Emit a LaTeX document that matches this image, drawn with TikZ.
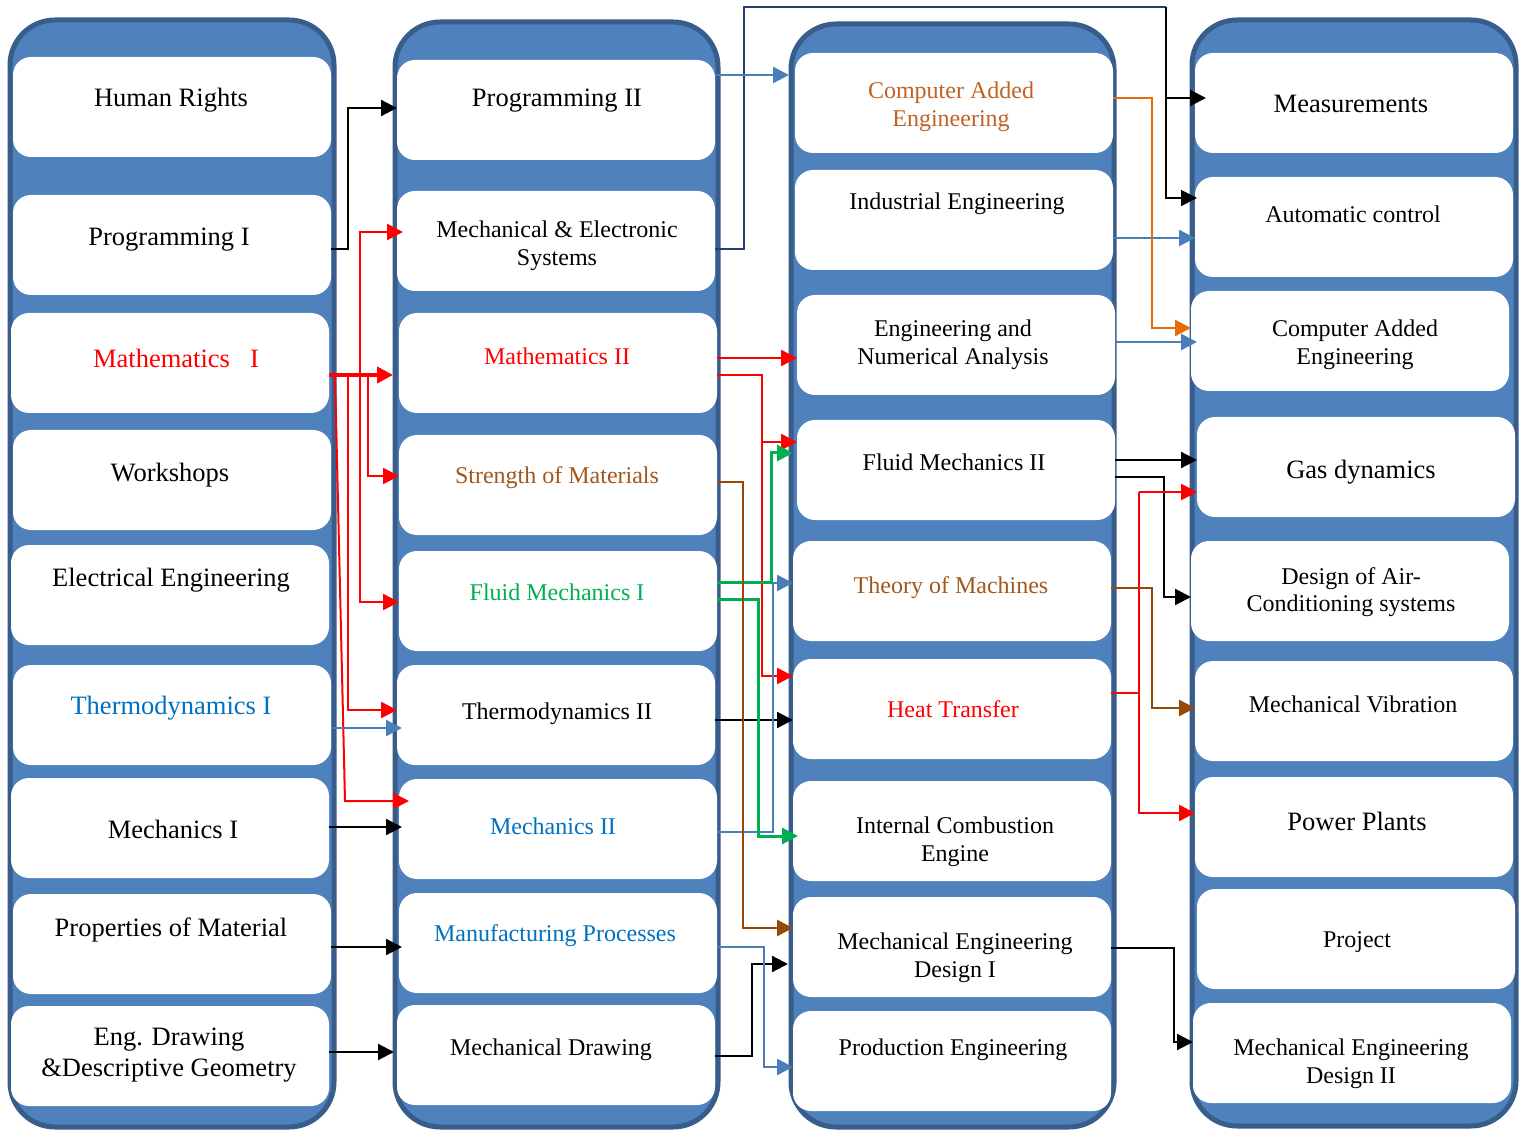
\documentclass[tikz,border=0pt]{standalone}
\usepackage{fontspec}
\setmainfont{Liberation Serif}
\usetikzlibrary{arrows.meta,calc}
\definecolor{cfill}{HTML}{4F81BD}
\definecolor{cbord}{HTML}{385D8A}
\definecolor{tred}{HTML}{FF0000}
\definecolor{tbrown}{RGB}{160,88,30}
\definecolor{torange}{RGB}{192,98,36}
\definecolor{tgreen}{HTML}{00B050}
\definecolor{tblue}{HTML}{0070C0}
\definecolor{lblue}{HTML}{4A7EBB}
\definecolor{lbrown}{RGB}{151,71,6}
\definecolor{lorange}{RGB}{228,108,10}
\definecolor{lnavy}{RGB}{35,64,110}
\begin{document}
\begin{tikzpicture}[x=1pt,y=-1pt,
  colbox/.style={draw=cbord,line width=5pt,fill=cfill,rounded corners=45pt,inner sep=0pt,outer sep=0pt,minimum width=324pt},
  wbox/.style={fill=white,draw=none,rounded corners=18pt,minimum width=318pt,minimum height=100pt,inner sep=0pt,outer sep=0pt},
  lg/.style={font=\fontsize{26.5}{31}\selectfont,align=center,inner sep=0pt,yshift=-3pt},
  sm/.style={font=\fontsize{24}{27.5}\selectfont,align=center,inner sep=0pt,yshift=-3pt},
  arr/.style={-{Triangle[length=16pt,width=16pt]}},
  blk/.style={draw=black,line width=2.2pt,arr},
  rdl/.style={draw=tred,line width=2.5pt,arr},
  bll/.style={draw=lblue,line width=2.4pt,arr},
  grl/.style={draw=tgreen,line width=3pt,arr},
  brl/.style={draw=lbrown,line width=2.8pt,arr},
  orl/.style={draw=lorange,line width=2.2pt,arr},
  nvl/.style={draw=lnavy,line width=1.6pt}
]
\useasboundingbox (0,0) rectangle (1524,1131);
\fill[white] (0,0) rectangle (1524,1131);

% columns
\node[colbox,minimum height=1107pt] (c1) at (172,573.5) {};
\node[colbox,minimum height=1105pt,minimum width=323pt] (c2) at (556.5,574.5) {};
\node[colbox,minimum height=1103pt,minimum width=323pt] (c3) at (952.5,575.5) {};
\node[colbox,minimum height=1106pt] (c4) at (1354,573) {};

% white boxes column 1
\node[wbox] (b11) at (172,107) {};
\node[wbox] (b12) at (172,245) {};
\node[wbox] (b13) at (170,363) {};
\node[wbox] (b14) at (172,480) {};
\node[wbox] (b15) at (170,595) {};
\node[wbox] (b16) at (172,715) {};
\node[wbox] (b17) at (170,828) {};
\node[wbox] (b18) at (172,944) {};
\node[wbox] (b19) at (170,1056) {};
% column 2
\node[wbox] (b21) at (556,110) {};
\node[wbox] (b22) at (556,241) {};
\node[wbox] (b23) at (558,363) {};
\node[wbox] (b24) at (558,485) {};
\node[wbox] (b25) at (558,601) {};
\node[wbox] (b26) at (556,715) {};
\node[wbox] (b27) at (558,829) {};
\node[wbox] (b28) at (558,943) {};
\node[wbox] (b29) at (556,1055) {};
% column 3
\node[wbox] (b31) at (954,103) {};
\node[wbox] (b32) at (954,220) {};
\node[wbox] (b33) at (956,345) {};
\node[wbox] (b34) at (956,470) {};
\node[wbox] (b35) at (952,591) {};
\node[wbox] (b36) at (952,709) {};
\node[wbox] (b37) at (952,831) {};
\node[wbox] (b38) at (952,947) {};
\node[wbox] (b39) at (952,1061) {};
% column 4
\node[wbox] (b41) at (1354,103) {};
\node[wbox] (b42) at (1354,227) {};
\node[wbox] (b43) at (1350,341) {};
\node[wbox] (b44) at (1356,467) {};
\node[wbox] (b45) at (1350,591) {};
\node[wbox] (b46) at (1354,711) {};
\node[wbox] (b47) at (1354,827) {};
\node[wbox] (b48) at (1356,939) {};
\node[wbox] (b49) at (1352,1053) {};

% texts column 1
\node[lg] (t11) at (171,97) {Human Rights};
\node[lg] (t12) at (169,237) {Programming I};
\node[lg,text=tred] (t13) at (176,355) {Mathematics\hspace{20pt}I};
\node[lg] (t14) at (170,472) {Workshops};
\node[lg] (t15) at (171,577) {Electrical Engineering};
\node[lg,text=tblue] (t16) at (171,705) {Thermodynamics I};
\node[lg] (t17) at (173,826) {Mechanics I};
\node[lg] (t18) at (171,927) {Properties of Material};
\node[lg] (t19) at (169,1052) {Eng. Drawing\\\&Descriptive Geometry};
% column 2
\node[lg] (t21) at (557,98) {Programming II};
\node[sm] (t22) at (557,243) {Mechanical \& Electronic\\Systems};
\node[sm,text=tred] (t23) at (557,353) {Mathematics II};
\node[sm,text=tbrown] (t24) at (557,475) {Strength of Materials};
\node[sm,text=tgreen] (t25) at (557,589) {Fluid Mechanics I};
\node[sm] (t26) at (557,711) {Thermodynamics II};
\node[sm,text=tblue] (t27) at (553,823) {Mechanics II};
\node[sm,text=tblue] (t28) at (555,933) {Manufacturing Processes};
\node[sm] (t29) at (551,1047) {Mechanical Drawing};
% column 3
\node[sm,text=torange] (t31) at (951,104) {Computer Added\\Engineering};
\node[sm] (t32) at (957,201) {Industrial Engineering};
\node[sm] (t33) at (953,342) {Engineering and\\Numerical Analysis};
\node[sm] (t34) at (954,459) {Fluid Mechanics II};
\node[sm,text=tbrown] (t35) at (951,585) {Theory of Machines};
\node[sm,text=tred] (t36) at (953,706) {Heat Transfer};
\node[sm] (t37) at (955,839) {Internal Combustion\\Engine};
\node[sm] (t38) at (955,955) {Mechanical Engineering\\Design I};
\node[sm] (t39) at (953,1047) {Production Engineering};
% column 4
\node[lg] (t41) at (1351,101) {Measurements};
\node[sm] (t42) at (1353,211) {Automatic control};
\node[sm] (t43) at (1355,342) {Computer Added\\Engineering};
\node[lg] (t44) at (1361,469) {Gas dynamics};
\node[sm] (t45) at (1351,589) {Design of Air-\\Conditioning systems};
\node[sm] (t46) at (1353,701) {Mechanical Vibration};
\node[lg] (t47) at (1357,818) {Power Plants};
\node[sm] (t48) at (1357,939) {Project};
\node[sm] (t49) at (1351,1061) {Mechanical Engineering\\Design II};

% junction coordinates
\coordinate (top) at (1166,7);
\coordinate (jn) at (1166,98);
\coordinate (r1) at (360,375);
\coordinate (r2) at (368,375);
\coordinate (r3) at (348,375);
\coordinate (r4) at (335,375);
\coordinate (r5) at (762,442);
\coordinate (r6) at (1139,492);

% black connectors
\draw[blk] (b12.east |- 0,249) -- (348,249) -- (348,108) -- (b21.west |- 0,108);
\draw[blk] (b17.east |- 0,827) -- ($(b27.west |- 0,827)+(3,0)$);
\draw[blk] (b18.east |- 0,947) -- ($(b28.west |- 0,947)+(3,0)$);
\draw[blk] (b19.east |- 0,1052) -- ($(b29.west |- 0,1052)+(-3,0)$);
\draw[blk] (b26.east |- 0,720) -- (b36.west |- 0,720);
\draw[blk] (b29.east |- 0,1056) -- (752,1056) -- (752,964) -- ($(b38.west |- 0,964)+(-5,0)$);
\draw[blk] (b34.east |- 0,460) -- (b44.west |- 0,460);
\draw[blk] (b34.east |- 0,477) -- (1164,477) -- (1164,597) -- (b45.west |- 0,597);
\draw[blk] (b38.east |- 0,948) -- (1174,948) -- (1174,1042) -- (b49.west |- 0,1042);
\draw[nvl] (b22.east |- 0,249) -- (744,249) -- (744,7) -- (top);
\draw[blk,line width=1.8pt] (top) -- (1166,198) -- ($(b42.west |- 0,198)+(2,0)$);
\draw[blk] (jn) -- ($(b41.west |- 0,98)+(11,0)$);

% red connectors
\draw[draw=tred,line width=4.5pt,arr] (b13.east |- 0,375) -- ($(b23.west |- 0,375)+(-6,0)$);
\draw[rdl] (r1) -- (360,232) -- ($(b22.west |- 0,232)+(6,0)$);
\draw[rdl] (r1) -- (360,602) -- (b25.west |- 0,602);
\draw[rdl] (r2) -- (368,476) -- (b24.west |- 0,476);
\draw[rdl] (r3) -- (348,710) -- (b26.west |- 0,710);
\draw[draw=tred,line width=2pt,arr] (r4) -- (345,801) -- ($(b27.west |- 0,801)+(10,0)$);
\draw[rdl] (b23.east |- 0,358) -- (b33.west |- 0,358);
\draw[rdl] (b23.east |- 0,375) -- (762,375) -- (762,676) -- (b36.west |- 0,676);
\draw[rdl] (r5) -- (b34.west |- 0,442);
\draw[draw=tred,line width=2.5pt] (b36.east |- 0,693) -- (1139,693);
\draw[rdl] (r6) -- (1139,813) -- (b47.west |- 0,813);
\draw[rdl] (r6) -- (b44.west |- 0,492);

% blue connectors
\draw[bll] (b16.east |- 0,728) -- ($(b26.west |- 0,728)+(5,0)$);
\draw[bll] (b21.east |- 0,75) -- ($(b31.west |- 0,75)+(-6,0)$);
\draw[bll] (b27.east |- 0,832) -- (773,832) -- (773,583) -- (b35.west |- 0,583);
\draw[bll] (b28.east |- 0,947) -- (764,947) -- (764,1067) -- (b39.west |- 0,1067);
\draw[bll] (b32.east |- 0,238) -- (b42.west |- 0,238);
\draw[bll] (b33.east |- 0,342) -- ($(b43.west |- 0,342)+(6,0)$);

% green connectors
\draw[grl] (b25.east |- 0,582) -- (771,582) -- (771,453) -- ($(b34.west |- 0,453)+(-4,0)$);
\draw[grl] (b25.east |- 0,599) -- (758,599) -- (758,836) -- ($(b37.west |- 0,836)+(5,0)$);

% brown connectors
\draw[brl] (b24.east |- 0,482) -- (743,482) -- (743,928) -- (b38.west |- 0,928);
\draw[brl] (b35.east |- 0,588) -- (1152,588) -- (1152,708) -- (b46.west |- 0,708);

% orange connector
\draw[orl] (b31.east |- 0,98) -- (1152,98) -- (1152,328) -- (b43.west |- 0,328);
\end{tikzpicture}
\end{document}
